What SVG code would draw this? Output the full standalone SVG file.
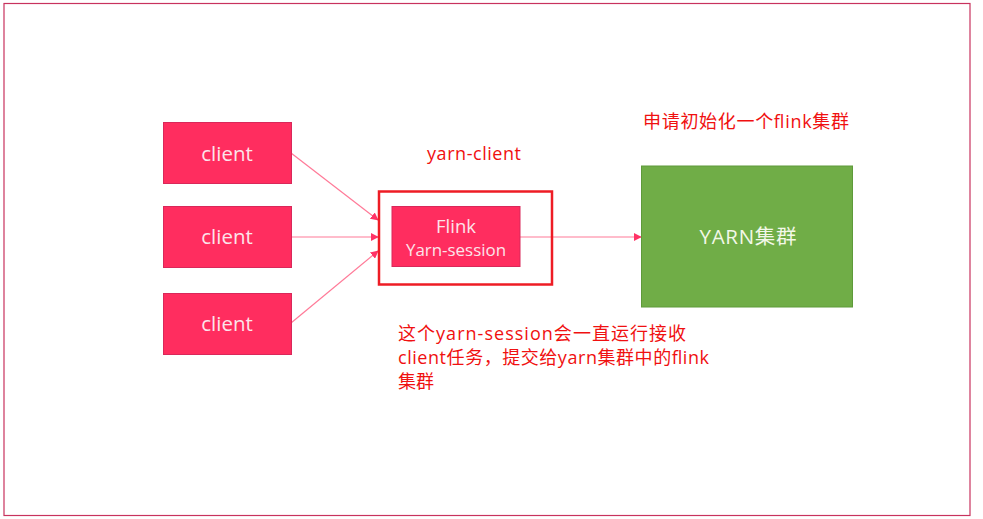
<svg xmlns="http://www.w3.org/2000/svg" width="983" height="519" viewBox="0 0 983 519">
<style>
.node{fill:#FF2D5F;stroke:#D9285A;stroke-width:1}
.nt{font-family:"Open Sans","Noto Sans CJK SC",sans-serif;fill:#FCE4EA;text-anchor:middle}
.red{font-family:"Open Sans","Noto Sans CJK SC",sans-serif;fill:#F01010;font-size:18px}
.conn{stroke:#FF7A98;stroke-width:1.2;fill:none;marker-end:url(#ah)}
</style>
<defs>
<marker id="ah" viewBox="0 0 10 10" refX="9" refY="5" markerWidth="8" markerHeight="8" markerUnits="userSpaceOnUse" orient="auto">
<path d="M0,0 L10,5 L0,10 z" fill="#FF3366"/>
</marker>
</defs>
<rect x="4" y="3.5" width="966" height="512" fill="#fff" stroke="#C8325E" stroke-width="1.2"/>
<g id="connectors">
<line class="conn" x1="291" y1="153" x2="378" y2="220"/>
<line class="conn" x1="291" y1="237" x2="378" y2="237"/>
<line class="conn" x1="291" y1="323" x2="378" y2="251"/>
<line class="conn" x1="520" y1="237" x2="641" y2="237"/>
</g>
<g id="client1"><rect class="node" x="163.5" y="122.5" width="128" height="61"/><text class="nt" x="227" y="161" font-size="20.5">client</text></g>
<g id="client2"><rect class="node" x="163.5" y="206.5" width="128" height="61"/><text class="nt" x="227" y="244" font-size="20.5">client</text></g>
<g id="client3"><rect class="node" x="163.5" y="293.5" width="128" height="61"/><text class="nt" x="227" y="331" font-size="20.5">client</text></g>
<g id="yarn-client">
<rect x="379" y="191.5" width="173" height="93" fill="none" stroke="#EE1C25" stroke-width="2.5"/>
<text class="red" x="427" y="160" textLength="94">yarn-client</text>
</g>
<g id="flink"><rect class="node" x="392" y="206.5" width="128" height="60"/>
<text class="nt" x="456" y="233" font-size="18.5">Flink</text>
<text class="nt" x="456" y="256" font-size="16" textLength="100" lengthAdjust="spacingAndGlyphs">Yarn-session</text></g>
<g id="yarn"><rect x="641.5" y="166" width="211" height="141" fill="#70AD47" stroke="#5E9A3A" stroke-width="1"/>
<text x="748" y="244" font-family="Open Sans,Noto Sans CJK SC,sans-serif" font-size="20.5" fill="#F3F8E8" text-anchor="middle" textLength="97">YARN集群</text></g>
<text class="red" x="643" y="128" textLength="206">申请初始化一个flink集群</text>
<text class="red" x="398" y="340" textLength="288">这个yarn-session会一直运行接收</text>
<text class="red" x="398" y="364" textLength="311">client任务，提交给yarn集群中的flink</text>
<text class="red" x="398" y="388">集群</text>
</svg>
